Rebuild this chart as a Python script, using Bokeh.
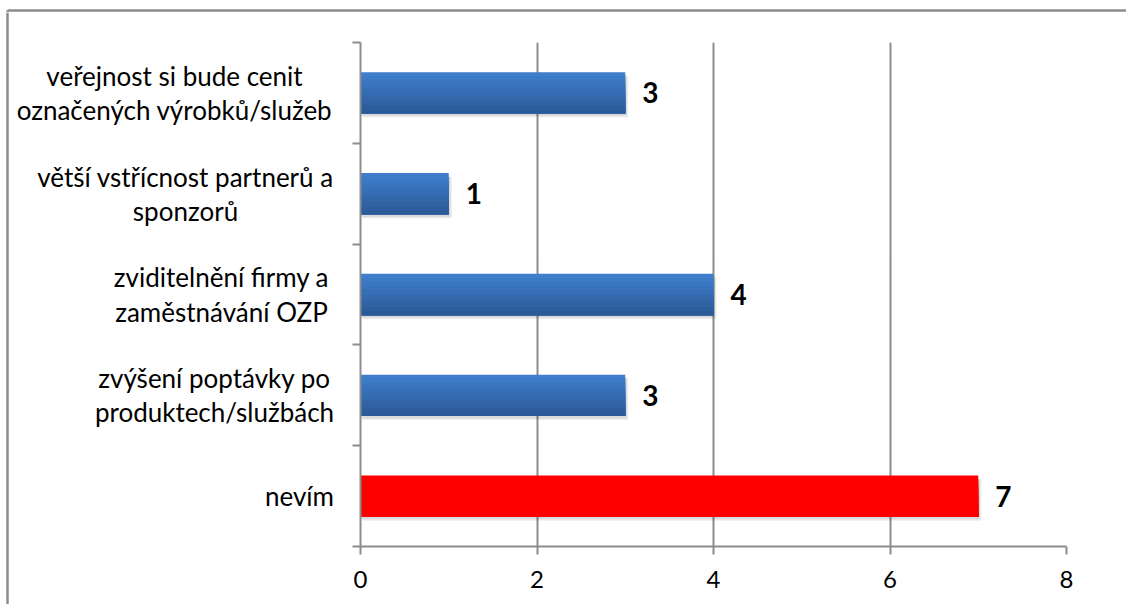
from bokeh.plotting import figure
from bokeh.models import ColumnDataSource, LabelSet, FixedTicker, Range1d
from bokeh.layouts import row, column
from bokeh.core.properties import value
from bokeh.embed import file_html
from bokeh.resources import INLINE

# ---- data (top to bottom as shown) ----
categories = [
    "veřejnost si bude cenit\noznačených výrobků/služeb",
    "větší vstřícnost partnerů a\nsponzorů",
    "zviditelnění firmy a\nzaměstnávání OZP",
    "zvýšení poptávky po\nproduktech/službách",
    "nevím",
]
values = [3, 1, 4, 3, 7]
highlight = [False, False, False, False, True]
x_ticks = [0, 2, 4, 6, 8]

# ---- styling / layout ----
FONT = "Lato"
GRAY = "#8c8c8c"
BAR_H = 0.41
N_STRIPS = 10
TOP_RGB = (62, 126, 204)
BOT_RGB = (44, 90, 152)
RED = "#ff0000"
# horizontal centre (px) of each label block: lines centred, block right edge near the axis
label_cx = [174, 185, 221, 214, 299]

STRIP_H = 12          # top strip that carries the chart border line
TOTAL_W = 1126
BODY_H = 592
LEFT_W = 340
R_MIN_LEFT = 20
FRAME_W = 706
FRAME_TOP = 30        # within body
FRAME_H = 504
R_W = TOTAL_W - LEFT_W
BORDER_X = 7
BORDER_Y = 10

n = len(categories)
pos = [n - 0.5 - i for i in range(n)]
unit = FRAME_H / n
y_top_body = n + FRAME_TOP / unit
y_bot_body = -(BODY_H - FRAME_TOP - FRAME_H) / unit

# ---- top strip with border line ----
top = figure(width=TOTAL_W, height=STRIP_H, output_backend="svg", toolbar_location=None,
             x_range=Range1d(0, TOTAL_W), y_range=Range1d(STRIP_H, 0),
             x_axis_type=None, y_axis_type=None, frame_align=False,
             min_border_left=0, min_border_right=0, min_border_top=0, min_border_bottom=0)
top.outline_line_color = None
top.segment(x0=[BORDER_X], y0=[BORDER_Y], x1=[TOTAL_W], y1=[BORDER_Y],
            line_color=GRAY, line_width=2.5)
top.segment(x0=[BORDER_X], y0=[BORDER_Y], x1=[BORDER_X], y1=[STRIP_H],
            line_color=GRAY, line_width=2.5)

# ---- left panel with category labels ----
left = figure(width=LEFT_W, height=BODY_H, output_backend="svg", toolbar_location=None,
              x_range=Range1d(0, LEFT_W), y_range=Range1d(y_bot_body, y_top_body),
              x_axis_type=None, y_axis_type=None, frame_align=False,
              min_border_left=0, min_border_right=0, min_border_top=0, min_border_bottom=0)
left.outline_line_color = None
left.segment(x0=[BORDER_X], y0=[y_bot_body], x1=[BORDER_X], y1=[y_top_body],
             line_color=GRAY, line_width=2.5)
csrc = ColumnDataSource(dict(x=label_cx, y=pos, t=categories))
left.text(x="x", y="y", text="t", source=csrc, text_align="center",
          text_baseline="middle", text_font=value(FONT), text_font_size="26px",
          text_color="black", text_line_height=1.07)

# ---- main chart ----
p = figure(width=R_W, height=BODY_H, output_backend="svg", toolbar_location=None,
           x_range=Range1d(0, 8), y_range=Range1d(0, n), frame_align=False,
           min_border_left=R_MIN_LEFT, min_border_right=R_W - R_MIN_LEFT - FRAME_W,
           min_border_top=FRAME_TOP, min_border_bottom=BODY_H - FRAME_TOP - FRAME_H)
p.frame_width = FRAME_W
p.frame_height = FRAME_H
p.outline_line_color = None

# shadows
sh = ColumnDataSource(dict(y=[y - 0.04 for y in pos], right=[v + 0.035 for v in values]))
p.hbar(y="y", left=0.02, right="right", height=BAR_H, source=sh,
       fill_color="black", fill_alpha=0.07, line_color=None)
sh2 = ColumnDataSource(dict(y=[y - 0.025 for y in pos], right=[v + 0.02 for v in values]))
p.hbar(y="y", left=0.01, right="right", height=BAR_H, source=sh2,
       fill_color="black", fill_alpha=0.08, line_color=None)

# gradient bars: each strip runs from its top edge down to the bar bottom
step = BAR_H / N_STRIPS
for k in range(N_STRIPS):
    t = k / (N_STRIPS - 1)
    rgb = tuple(int(round(TOP_RGB[c] + (BOT_RGB[c] - TOP_RGB[c]) * t)) for c in range(3))
    col = "#%02x%02x%02x" % rgb
    hk = BAR_H - k * step
    ys = [y - BAR_H / 2 + hk / 2 for y in pos]
    colors = [RED if h else col for h in highlight]
    src = ColumnDataSource(dict(y=ys, right=values, color=colors))
    p.hbar(y="y", left=0, right="right", height=hk, source=src,
           fill_color="color", line_color=None)

# value labels
vsrc = ColumnDataSource(dict(x=values, y=pos, t=[str(v) for v in values]))
p.add_layout(LabelSet(x="x", y="y", text="t", source=vsrc, x_offset=17,
                      text_align="left", text_baseline="middle",
                      text_font=value(FONT), text_font_style="bold",
                      text_font_size="28px", text_color="black"))

# axes
p.xaxis.ticker = FixedTicker(ticks=x_ticks)
p.xaxis.axis_line_color = GRAY
p.xaxis.axis_line_width = 2
p.xaxis.major_tick_line_color = GRAY
p.xaxis.major_tick_line_width = 2
p.xaxis.major_tick_out = 8
p.xaxis.major_tick_in = 0
p.xaxis.minor_tick_line_color = None
p.xaxis.major_label_text_font = FONT
p.xaxis.major_label_text_font_size = "24px"
p.xaxis.major_label_text_color = "black"
p.xaxis.major_label_standoff = 16

p.yaxis.ticker = FixedTicker(ticks=list(range(n + 1)))
p.yaxis.axis_line_color = GRAY
p.yaxis.axis_line_width = 2
p.yaxis.major_tick_line_color = GRAY
p.yaxis.major_tick_line_width = 2
p.yaxis.major_tick_out = 8
p.yaxis.major_tick_in = 0
p.yaxis.minor_tick_line_color = None
p.yaxis.major_label_overrides = {i: "" for i in range(n + 1)}
p.yaxis.major_label_standoff = 0

p.xgrid.ticker = FixedTicker(ticks=x_ticks[1:])
p.xgrid.grid_line_color = GRAY
p.xgrid.grid_line_width = 2
p.ygrid.grid_line_color = None

layout = column(top, row(left, p, spacing=0), spacing=0)
open("out.html", "w").write(file_html(layout, INLINE))
